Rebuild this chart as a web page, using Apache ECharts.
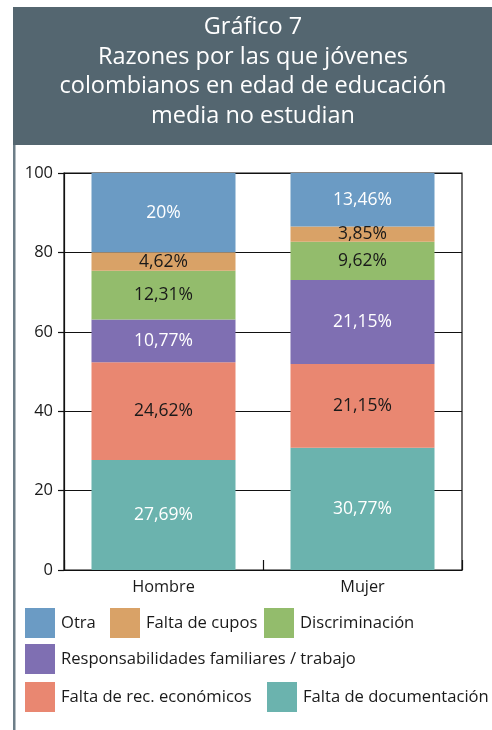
<!DOCTYPE html>
<html>
<head>
<meta charset="utf-8">
<script src="https://cdn.jsdelivr.net/npm/echarts@6/dist/echarts.min.js"></script>
<style>
  html, body { margin: 0; padding: 0; background: #fff; }
  #chart { width: 492px; height: 730px; }
</style>
</head>
<body>
<div id="chart"></div>
<script>
// Categories and stacked shares (%) per reason, bottom to top
const categories = ['Hombre', 'Mujer'];
const faltaDocumentacion = [27.69, 30.77];
const faltaRecEconomicos = [24.62, 21.15];
const responsabilidades = [10.77, 21.15];
const discriminacion = [12.31, 9.62];
const faltaCupos = [4.62, 3.85];
const otra = [20, 13.46];
const yTicks = [0, 20, 40, 60, 80, 100];

const titleLines = ['Gráfico 7', 'Razones por las que jóvenes', 'colombianos en edad de educación', 'media no estudian'];

const FONT = '"Open Sans", "Noto Sans", sans-serif';

const seriesDefs = [
  { name: 'Falta de documentación', data: faltaDocumentacion, color: '#6bb3ae', label: '#ffffff' },
  { name: 'Falta de rec. económicos', data: faltaRecEconomicos, color: '#e98771', label: '#1a1a1a' },
  { name: 'Responsabilidades familiares / trabajo', data: responsabilidades, color: '#7f6fb2', label: '#ffffff' },
  { name: 'Discriminación', data: discriminacion, color: '#93bc6c', label: '#1a1a1a' },
  { name: 'Falta de cupos', data: faltaCupos, color: '#d9a267', label: '#1a1a1a' },
  { name: 'Otra', data: otra, color: '#6b9bc4', label: '#ffffff' }
];

const fmt = v => String(v).replace('.', ',') + '%';

const series = seriesDefs.map(s => ({
  name: s.name,
  type: 'bar',
  stack: 'total',
  barWidth: 144,
  data: s.data,
  itemStyle: { color: s.color },
  label: {
    show: true,
    position: 'inside',
    color: s.label,
    fontFamily: FONT,
    fontSize: 17.5,
    formatter: p => fmt(p.value)
  },
  emphasis: { disabled: true }
}));

// Legend placement: one entry per block
const legendLayout = [
  { name: 'Otra', left: 25, top: 608 },
  { name: 'Falta de cupos', left: 110, top: 608 },
  { name: 'Discriminación', left: 264, top: 608 },
  { name: 'Responsabilidades familiares / trabajo', left: 25, top: 644 },
  { name: 'Falta de rec. económicos', left: 25, top: 682 },
  { name: 'Falta de documentación', left: 267, top: 682 }
];

const legends = legendLayout.map(l => ({
  data: [l.name],
  left: l.left,
  top: l.top,
  itemWidth: 30,
  itemHeight: 30,
  itemGap: 0,
  padding: 0,
  selectedMode: false,
  icon: 'rect',
  textStyle: { fontFamily: FONT, fontSize: 16.6, color: '#1a1a1a', padding: [0, 0, 0, 1] }
}));

const chart = echarts.init(document.getElementById('chart'), null, { renderer: 'canvas' });

chart.setOption({
  animation: false,
  backgroundColor: '#ffffff',
  graphic: [
    { type: 'rect', shape: { x: 13, y: 7, width: 479, height: 138 }, style: { fill: '#546670' }, silent: true },
    { type: 'rect', shape: { x: 13, y: 145, width: 2.5, height: 585 }, style: { fill: '#6d7e88' }, silent: true },
    {
      type: 'text',
      x: 253, y: 13,
      style: {
        text: titleLines.join('\n'),
        fill: '#ffffff',
        font: '23.5px ' + FONT,
        lineHeight: 29.5,
        align: 'center',
        verticalAlign: 'top'
      },
      silent: true
    }
  ],
  legend: legends,
  grid: {
    left: 64, right: 30, top: 173, bottom: 160,
    show: true, borderColor: '#111', borderWidth: 1.2, backgroundColor: 'transparent'
  },
  xAxis: {
    type: 'category',
    data: categories,
    axisLine: { lineStyle: { color: '#111', width: 1.2 } },
    axisTick: { show: true, inside: true, length: 10, lineStyle: { color: '#111', width: 1.2 } },
    axisLabel: { fontFamily: FONT, fontSize: 16.3, color: '#1a1a1a', margin: 9 }
  },
  yAxis: {
    type: 'value',
    min: yTicks[0],
    max: yTicks[yTicks.length - 1],
    interval: 20,
    axisLine: { show: true, lineStyle: { color: '#111', width: 1.2 } },
    axisTick: { show: true, length: 6, lineStyle: { color: '#111', width: 1.2 } },
    axisLabel: { fontFamily: FONT, fontSize: 16.5, color: '#1a1a1a', margin: 11 },
    splitLine: { lineStyle: { color: '#111', width: 1.2 } }
  },
  series: series
});
</script>
</body>
</html>
